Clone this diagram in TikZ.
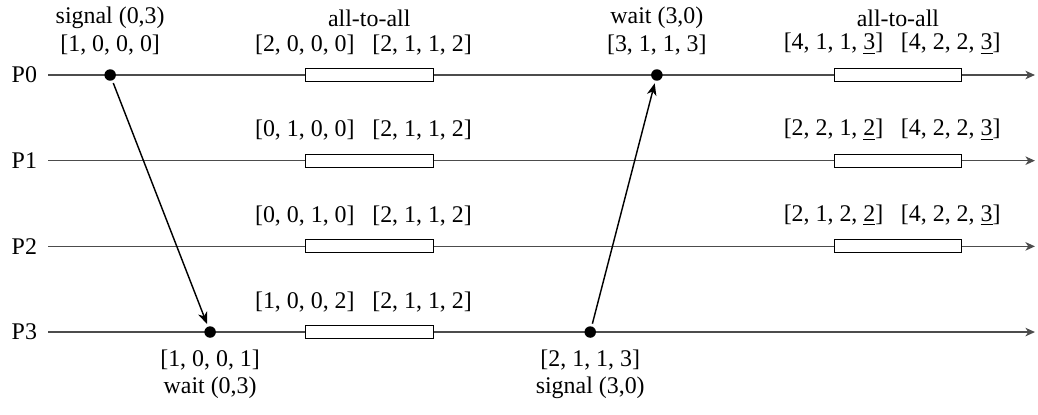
\documentclass[tikz,border=0pt]{standalone}
\usepackage{fontspec}
\setmainfont{Liberation Serif}
\usetikzlibrary{arrows.meta, positioning}

\begin{document}
\begin{tikzpicture}[node distance=0.15cm, font=\normalsize,
	proc/.style={draw=black!70, line width=0.5pt, -{Stealth[length=4pt, width=3.6pt, inset=1.2pt]}},
	event/.style={circle, fill=black, inner sep=0pt, minimum size=4.8pt},
	coll/.style={draw, fill=white, minimum width=1.88cm, minimum height=0.19cm, inner sep=0pt},
	vec/.style={inner sep=1pt},
	msg/.style={semithick, -{Stealth[length=5pt, width=4pt, inset=1.5pt]}, shorten >=1pt, shorten <=1pt}]
	\useasboundingbox (0,0) rectangle (15.265,6.103);
	% process lines
	\foreach \i/\y in {0/5.0, 1/3.74, 2/2.48, 3/1.22} {
		\coordinate (s\i) at (0.706,\y);
		\coordinate (e\i) at (15.22,\y);
		\node[left=0.12cm of s\i, inner sep=1pt] (p\i) {P\i};
		\draw[proc] (s\i) -- (e\i);
		\node[coll] (a\i) at (5.43,\y) {};
	}
	\foreach \i/\y in {0/5.0, 1/3.74, 2/2.48}
		\node[coll] (b\i) at (13.205,\y) {};
	% vector clocks at the all-to-all calls
	\foreach \i/\l/\r in {0/{[2, 0, 0, 0]}/{[2, 1, 1, 2]}, 1/{[0, 1, 0, 0]}/{[2, 1, 1, 2]}, 2/{[0, 0, 1, 0]}/{[2, 1, 1, 2]}, 3/{[1, 0, 0, 2]}/{[2, 1, 1, 2]}} {
		\node[vec, above=of a\i.north west] (al\i) {\l};
		\node[vec, above=of a\i.north east, xshift=-0.17cm] (ar\i) {\r};
	}
	\foreach \i/\l/\r in {0/{[4, 1, 1, \underline{3}]}/{[4, 2, 2, \underline{3}]}, 1/{[2, 2, 1, \underline{2}]}/{[4, 2, 2, \underline{3}]}, 2/{[2, 1, 2, \underline{2}]}/{[4, 2, 2, \underline{3}]}} {
		\node[vec, above=of b\i.north west] (bl\i) {\l};
		\node[vec, above=of b\i.north east, xshift=-0.17cm] (br\i) {\r};
	}
	\node[vec, above=0.57cm of a0.north] (ta) {all-to-all};
	\node[vec, above=0.57cm of b0.north] (tb) {all-to-all};
	% signal / wait events
	\node[event] (sig0) at (1.62,5.0) {};
	\node[event] (wait3) at (3.09,1.22) {};
	\node[event] (sig3) at (8.68,1.22) {};
	\node[event] (wait0) at (9.66,5.0) {};
	\node[vec, above=0.16cm of sig0] (vs0) {[1, 0, 0, 0]};
	\node[vec, above=0pt of vs0] (ls0) {signal (0,3)};
	\node[vec, above=0.16cm of wait0] (vw0) {[3, 1, 1, 3]};
	\node[vec, above=0pt of vw0] (lw0) {wait (3,0)};
	\node[vec, below=0.13cm of wait3] (vw3) {[1, 0, 0, 1]};
	\node[vec, below=0.02cm of vw3] (lw3) {wait (0,3)};
	\node[vec, below=0.13cm of sig3] (vs3) {[2, 1, 1, 3]};
	\node[vec, below=0.02cm of vs3] (ls3) {signal (3,0)};
	\draw[msg] (sig0) -- (wait3);
	\draw[msg] (sig3) -- (wait0);
\end{tikzpicture}
\end{document}
